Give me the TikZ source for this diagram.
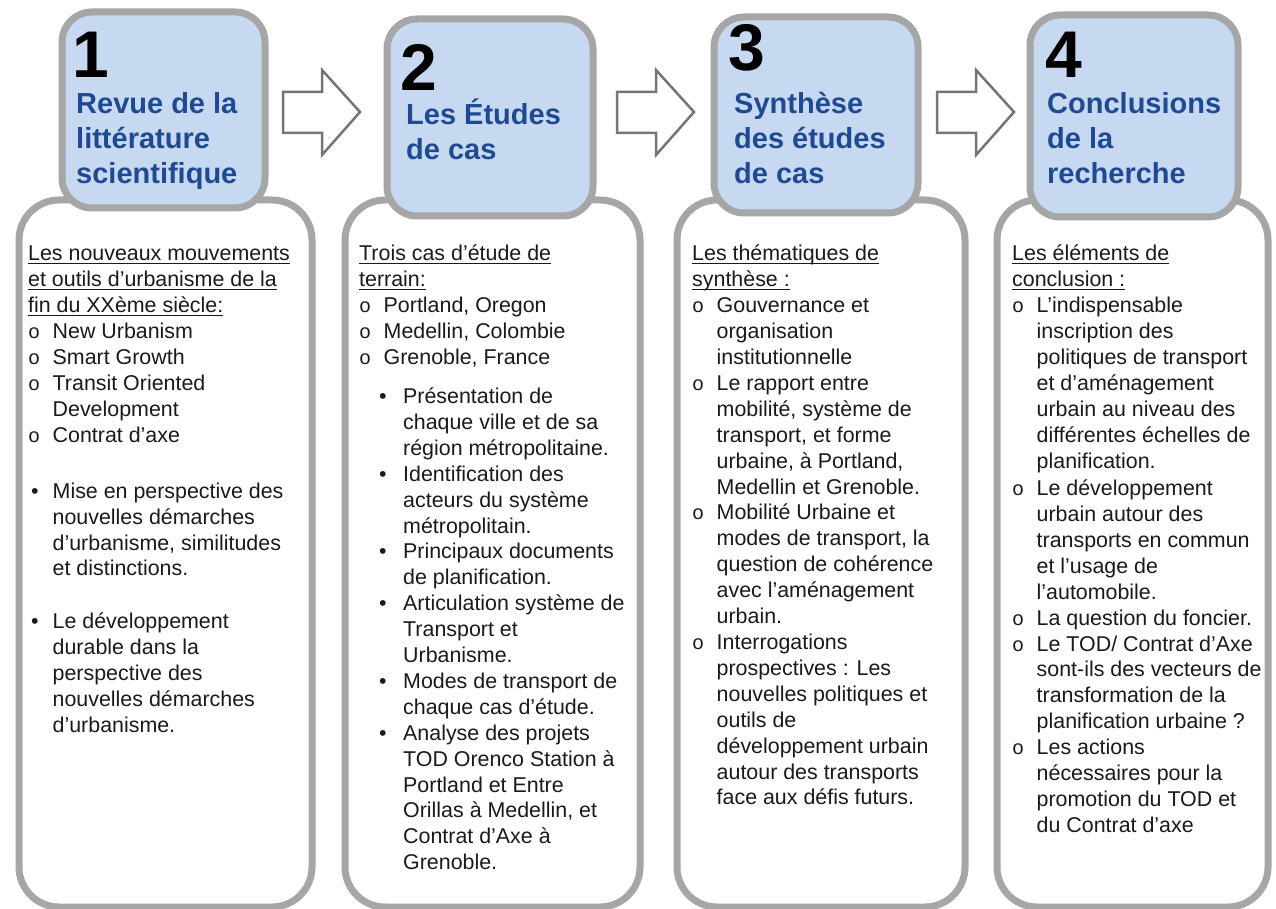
\documentclass[tikz,border=0pt]{standalone}
\usepackage{fontspec}
\setmainfont{Liberation Sans}
\newfontfamily\bulfont{Liberation Mono}
\definecolor{boxgray}{HTML}{A6A6A6}
\definecolor{hdrblue}{HTML}{C6D9F1}
\definecolor{ttlblue}{HTML}{1F4A93}
\definecolor{arrgray}{HTML}{757575}
\definecolor{txtblack}{HTML}{1A1A1A}
\newcommand{\ci}[1]{\makebox[24.5pt][l]{\bulfont\fontsize{20}{20}\selectfont o}#1}
\newcommand{\cc}[1]{\hspace*{24.5pt}#1}
\newcommand{\bia}[1]{\hspace*{3pt}\makebox[21.5pt][l]{•}#1}
\newcommand{\bca}[1]{\hspace*{24.5pt}#1}
\newcommand{\bib}[1]{\hspace*{20pt}\makebox[24pt][l]{•}#1}
\newcommand{\bcb}[1]{\hspace*{44pt}#1}
\newcommand{\ul}[1]{\leavevmode\setbox0\hbox{#1}\rlap{\rule[-3pt]{\wd0}{1.2pt}}\box0}
\newcommand{\bodyfont}{\fontsize{21.4}{25.9}\selectfont}
\begin{document}
\begin{tikzpicture}[x=1pt,y=-1pt,
  hdr/.style={draw=boxgray, line width=7pt, fill=hdrblue, rounded corners=30pt, anchor=north west, inner sep=0},
  bodybox/.style={draw=boxgray, line width=7pt, fill=white, rounded corners=40pt, anchor=north west, inner sep=0},
  arr/.style={draw=arrgray, line width=2.5pt, fill=white, line join=miter},
  num/.style={anchor=base west, inner sep=0, font=\fontsize{66}{66}\selectfont\bfseries},
  ttl/.style={anchor=base west, inner sep=0, text=ttlblue, font=\fontsize{29}{35}\selectfont\bfseries},
  txt/.style={anchor=base west, inner sep=0, text=txtblack, font=\bodyfont}]
\useasboundingbox (0,0) rectangle (1276,909);
% body boxes
\node[bodybox, minimum width=293pt, minimum height=707pt] (b1) at (15.5,196.5) {};
\node[bodybox, minimum width=295pt, minimum height=707pt] (b2) at (341.5,196.5) {};
\node[bodybox, minimum width=288pt, minimum height=707pt] (b3) at (673.5,196.5) {};
\node[bodybox, minimum width=271pt, minimum height=707pt] (b4) at (993.5,196.5) {};
% header boxes
\node[hdr, minimum width=203pt, minimum height=196pt] (h1) at (58.5,8.5) {};
\node[hdr, minimum width=206pt, minimum height=197pt] (h2) at (383.5,15.5) {};
\node[hdr, minimum width=204pt, minimum height=196pt] (h3) at (710.5,13.5) {};
\node[hdr, minimum width=208pt, minimum height=202pt] (h4) at (1026.5,11.5) {};
% arrows
\foreach \ax/\nm in {283/a1,617/a2,937/a3}{
  \draw[arr] (\ax,92) -- ++(39,0) -- ++(0,-22) -- ++(38,42) -- ++(-38,43) -- ++(0,-22) -- ++(-39,0) -- cycle;
}
% header texts
\node[num] (n1) at (72,78) {1};
\node[ttl] (t1) at (76,114) {\vtop{\hbox{Revue de la}\hbox{littérature}\hbox{scientifique}}};
\node[num] (n2) at (400,91) {2};
\node[ttl] (t2) at (406,125) {\vtop{\hbox{Les Études}\hbox{de cas}}};
\node[num] (n3) at (728,71) {3};
\node[ttl] (t3) at (734,114) {\vtop{\hbox{Synthèse}\hbox{des études}\hbox{de cas}}};
\node[num] (n4) at (1045,78) {4};
\node[ttl] (t4) at (1047,114) {\vtop{\hbox{Conclusions}\hbox{de la}\hbox{recherche}}};
% body texts
\node[txt] (x1) at (28,261) {\parbox[t]{280pt}{\bodyfont
\ul{Les nouveaux mouvements}\\
\ul{et outils d’urbanisme de la}\\
\ul{fin du XXème siècle:}\\
\ci{New Urbanism}\\
\ci{Smart Growth}\\
\ci{Transit Oriented}\\
\cc{Development}\\
\ci{Contrat d’axe}\\[30pt]
\bia{Mise en perspective des}\\
\bca{nouvelles démarches}\\
\bca{d’urbanisme, similitudes}\\
\bca{et distinctions.}\\[27pt]
\bia{Le développement}\\
\bca{durable dans la}\\
\bca{perspective des}\\
\bca{nouvelles démarches}\\
\bca{d’urbanisme.}}};
\node[txt] (x2) at (359,261) {\parbox[t]{280pt}{\bodyfont
\ul{Trois cas d’étude de}\\
\ul{terrain:}\\
\ci{Portland, Oregon}\\
\ci{Medellin, Colombie}\\
\ci{Grenoble, France}\\[13pt]
\bib{Présentation de}\\
\bcb{chaque ville et de sa}\\
\bcb{région métropolitaine.}\\
\bib{Identification des}\\
\bcb{acteurs du système}\\
\bcb{métropolitain.}\\
\bib{Principaux documents}\\
\bcb{de planification.}\\
\bib{Articulation système de}\\
\bcb{Transport et}\\
\bcb{Urbanisme.}\\
\bib{Modes de transport de}\\
\bcb{chaque cas d’étude.}\\
\bib{Analyse des projets}\\
\bcb{TOD Orenco Station à}\\
\bcb{Portland et Entre}\\
\bcb{Orillas à Medellin, et}\\
\bcb{Contrat d’Axe à}\\
\bcb{Grenoble.}}};
\node[txt] (x3) at (692,261) {\parbox[t]{280pt}{\bodyfont
\ul{Les thématiques de}\\
\ul{synthèse :}\\
\ci{Gouvernance et}\\
\cc{organisation}\\
\cc{institutionnelle}\\
\ci{Le rapport entre}\\
\cc{mobilité, système de}\\
\cc{transport, et forme}\\
\cc{urbaine, à Portland,}\\
\cc{Medellin et Grenoble.}\\
\ci{Mobilité Urbaine et}\\
\cc{modes de transport, la}\\
\cc{question de cohérence}\\
\cc{avec l’aménagement}\\
\cc{urbain.}\\
\ci{Interrogations}\\
\cc{prospectives : Les}\\
\cc{nouvelles politiques et}\\
\cc{outils de}\\
\cc{développement urbain}\\
\cc{autour des transports}\\
\cc{face aux défis futurs.}}};
\node[txt] (x4) at (1012,261) {\parbox[t]{260pt}{\bodyfont
\ul{Les éléments de}\\
\ul{conclusion :}\\
\ci{L’indispensable}\\
\cc{inscription des}\\
\cc{politiques de transport}\\
\cc{et d’aménagement}\\
\cc{urbain au niveau des}\\
\cc{différentes échelles de}\\
\cc{planification.}\\[1.5pt]
\ci{Le développement}\\
\cc{urbain autour des}\\
\cc{transports en commun}\\
\cc{et l’usage de}\\
\cc{l’automobile.}\\
\ci{La question du foncier.}\\
\ci{Le TOD/ Contrat d’Axe}\\
\cc{sont-ils des vecteurs de}\\
\cc{transformation de la}\\
\cc{planification urbaine ?}\\
\ci{Les actions}\\
\cc{nécessaires pour la}\\
\cc{promotion du TOD et}\\
\cc{du Contrat d’axe}}};
\end{tikzpicture}
\end{document}
